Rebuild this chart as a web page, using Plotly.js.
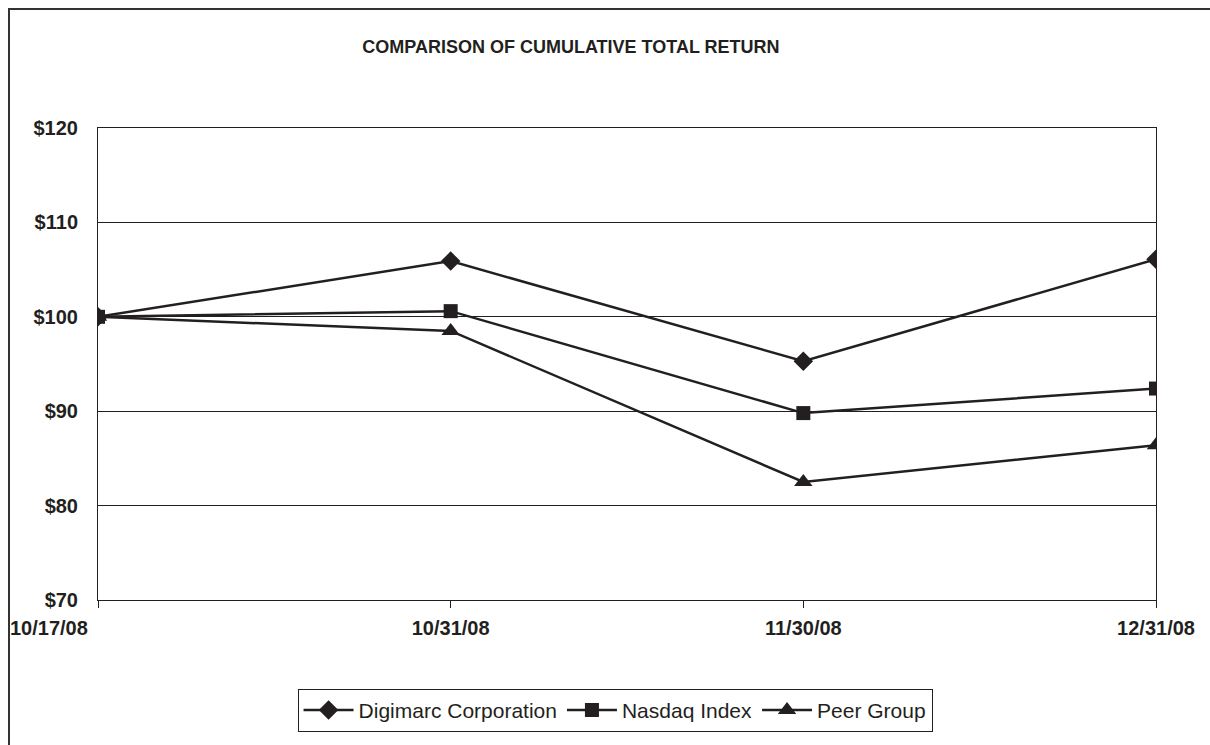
<!DOCTYPE html>
<html>
<head>
<meta charset="utf-8">
<script src="https://cdn.plot.ly/plotly-3.0.1.min.js"></script>
<style>
  html, body { margin: 0; padding: 0; background: #fff; width: 1210px; height: 745px; overflow: hidden; }
  #frame { position: absolute; left: 8px; top: 8px; width: 1400px; height: 900px; border-left: 2px solid #333; border-top: 2px solid #333; }
  #chart { position: absolute; left: 0; top: 0; width: 1210px; height: 745px; }
</style>
</head>
<body>
<div id="frame"></div>
<div id="chart"></div>
<script>
const dates = ["10/17/08", "10/31/08", "11/30/08", "12/31/08"];
const digimarc = [100, 105.9, 95.3, 106.1];
const nasdaq = [100, 100.6, 89.8, 92.4];
const peer = [100, 98.5, 82.5, 86.4];
const yTickVals = [70, 80, 90, 100, 110, 120];
const yTickText = ["$70", "$80", "$90", "$100", "$110", "$120"];

const ink = "#231f20";
const font = "Liberation Sans, Arial, sans-serif";

function series(name, y, symbol, size) {
  return {
    type: "scatter", mode: "lines+markers", name: name,
    x: dates.map((d, i) => i), y: y,
    line: { color: ink, width: 2.5 },
    marker: { symbol: symbol, size: size, color: ink }
  };
}

const data = [
  series("Digimarc Corporation", digimarc, "diamond", 15),
  series("Nasdaq Index", nasdaq, "square", 14),
  series("Peer Group", peer, "triangle-up", 16)
];

const layout = {
  width: 1210, height: 745,
  margin: { l: 98, r: 54, t: 128, b: 145 },
  paper_bgcolor: "rgba(0,0,0,0)",
  plot_bgcolor: "rgba(0,0,0,0)",
  font: { family: font, color: ink },
  title: {
    text: "<b>COMPARISON OF CUMULATIVE TOTAL RETURN</b>",
    font: { family: font, size: 18, color: ink },
    x: 0.447, xref: "paper", xanchor: "center",
    y: 0.937, yref: "container", yanchor: "middle"
  },
  xaxis: {
    range: [0, 3],
    tickmode: "array",
    tickvals: dates.map((d, i) => i),
    ticktext: dates.map((d, i) => i === 0 ? "" : "<b>" + d + "</b>"),
    ticks: "outside", ticklen: 7, tickcolor: ink, tickwidth: 1,
    ticklabelstandoff: 3,
    tickfont: { family: font, size: 20, color: ink },
    showgrid: false,
    showline: true, linecolor: ink, linewidth: 1, mirror: true,
    zeroline: false, fixedrange: true
  },
  yaxis: {
    range: [70, 120],
    tickmode: "array",
    tickvals: yTickVals,
    ticktext: yTickText.map(t => "<b>" + t + "</b>"),
    ticks: "", ticklabelstandoff: 15,
    tickfont: { family: font, size: 20, color: ink },
    showgrid: true, gridcolor: ink, gridwidth: 1,
    showline: true, linecolor: ink, linewidth: 1, mirror: true,
    zeroline: false, fixedrange: true
  },
  annotations: [{
    text: "<b>" + dates[0] + "</b>",
    x: 0, xref: "x", xanchor: "right", xshift: -8,
    y: 0, yref: "paper", yanchor: "top", yshift: -15,
    showarrow: false,
    font: { family: font, size: 20, color: ink }
  }],
  showlegend: true,
  legend: {
    orientation: "h",
    x: 0.4887, xanchor: "center",
    y: -0.188, yanchor: "top",
    bordercolor: ink, borderwidth: 1,
    bgcolor: "#fff",
    font: { family: font, size: 21, color: ink },
    itemwidth: 50,
    tracegroupgap: 0
  }
};

Plotly.newPlot("chart", data, layout, { displayModeBar: false, staticPlot: true });
</script>
</body>
</html>
